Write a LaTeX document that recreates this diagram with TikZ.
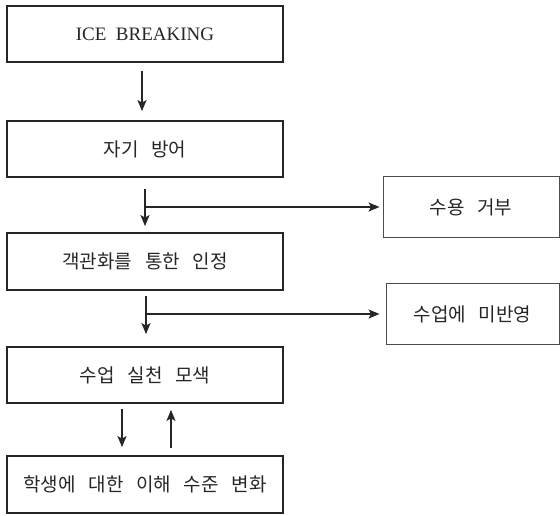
\documentclass[tikz,border=0pt]{standalone}
\usepackage{fontspec}
\setmainfont{Liberation Serif}
\newfontfamily\kr{Noto Sans CJK KR}
\usepackage{tikz}
\usetikzlibrary{arrows.meta}

\begin{document}
\begin{tikzpicture}[x=1pt,y=-1pt,
		mainbox/.style={draw=black!85,line width=1.8pt,minimum width=276pt,minimum height=56pt,inner sep=0pt},
		sidebox/.style={draw=black!70,line width=0.9pt,minimum height=61pt,inner sep=0pt},
		arr/.style={-{Stealth[length=11pt,width=9pt,inset=2.5pt]},line width=1.6pt,black!85},
		krtext/.style={font=\kr\fontsize{19}{22}\selectfont,text=black!85}]
			% frame of the page
			\useasboundingbox (0,0) rectangle (560,515);
			% main steps (left column)
			\node[mainbox,font=\fontsize{19}{22}\selectfont,text=black!85] (ice) at (145,34) {ICE\ \ BREAKING};
			\node[mainbox,krtext] (defense) at (145,149) {자기\ \ \ 방어};
			\node[mainbox,krtext,minimum height=57pt] (objective) at (145,261.5) {객관화를\ \ \ 통한\ \ \ 인정};
			\node[mainbox,krtext] (practice) at (145,375) {수업\ \ \ 실천\ \ \ 모색};
			\node[mainbox,krtext,minimum height=57pt] (student) at (145,484.5) {학생에\ \ \ 대한\ \ \ 이해\ \ \ 수준\ \ \ 변화};
			% side outcomes (right column)
			\node[sidebox,krtext,minimum width=176pt] (reject) at (471,207) {수용\ \ \ 거부};
			\node[sidebox,krtext,minimum width=173pt] (noreflect) at (472.5,314) {수업에\ \ \ 미반영};
			% branch points
			\coordinate (b1) at (defense.south |- reject.west);
			\coordinate (b2) at ([xshift=1pt]objective.south |- noreflect.west);
			% arrows down the column
			\draw[arr,shorten <=8pt,shorten >=9pt] ([xshift=-3pt]ice.south) -- ([xshift=-3pt]defense.north);
			\draw[arr,shorten <=11pt,shorten >=6pt] (defense.south) -- (objective.north);
			\draw[arr,shorten <=5pt,shorten >=12pt] ([xshift=1pt]objective.south) -- ([xshift=1pt]practice.north);
			\draw[arr,shorten >=3pt] (b1) -- (reject.west);
			\draw[arr,shorten >=6pt] (b2) -- (noreflect.west);
			% two-way link at the bottom
			\draw[arr,shorten <=5pt,shorten >=8pt] ([xshift=-23pt]practice.south) -- ([xshift=-23pt]student.north);
			\draw[arr,shorten <=7pt,shorten >=6pt] ([xshift=26pt]student.north) -- ([xshift=26pt]practice.south);
		\end{tikzpicture}
\end{document}
